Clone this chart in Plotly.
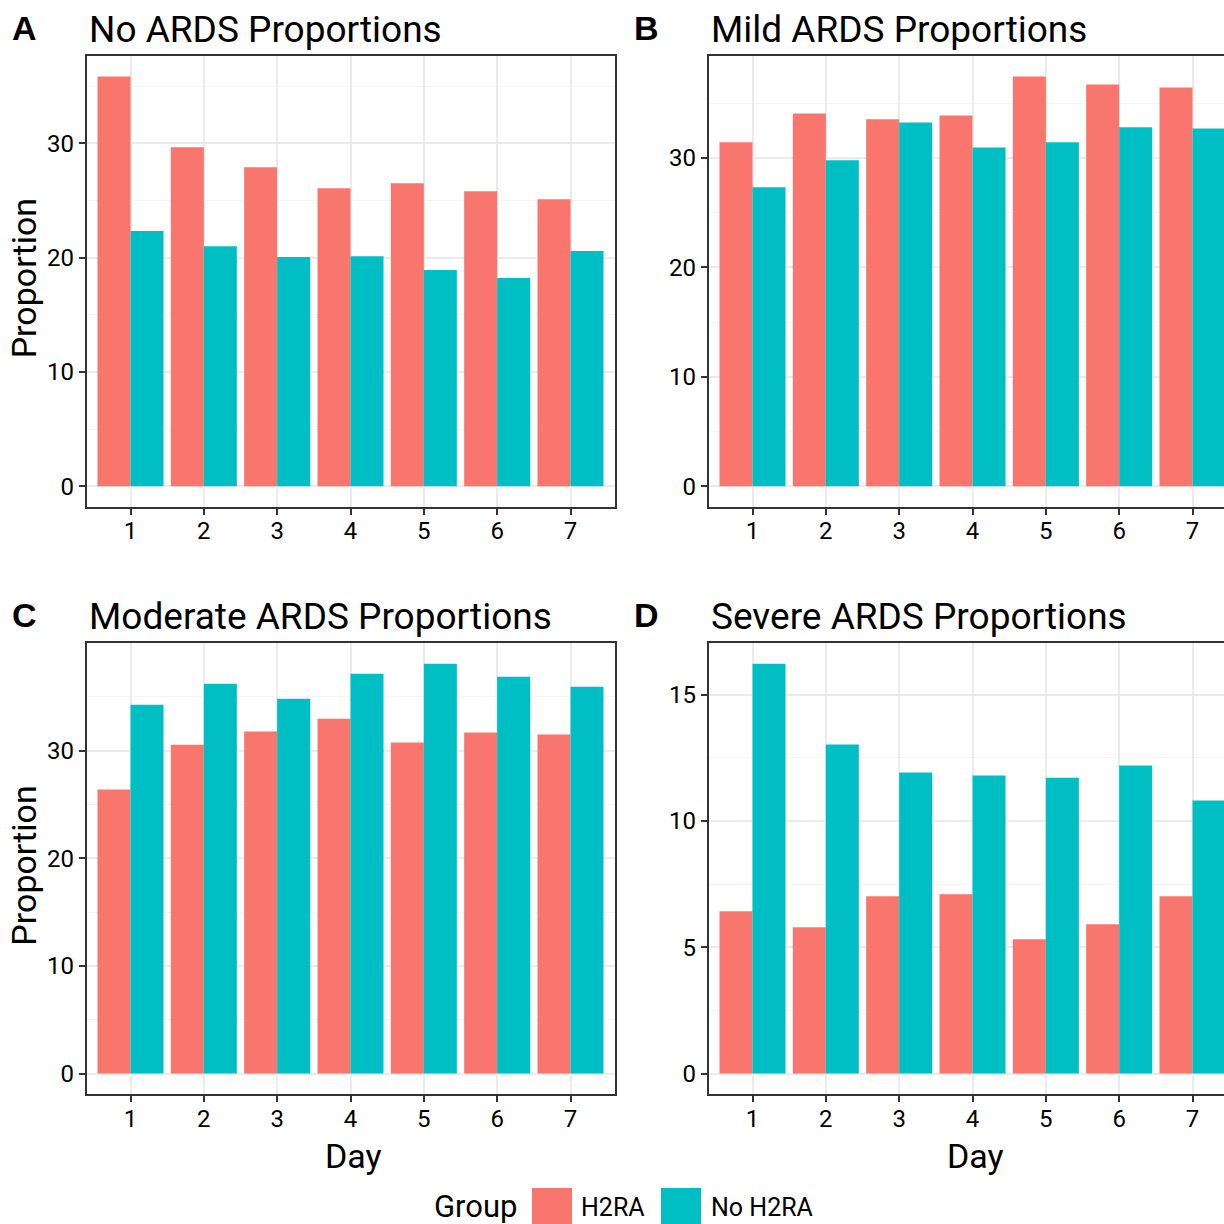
import plotly.graph_objects as go

days = [1, 2, 3, 4, 5, 6, 7]
groups = ["H2RA", "No H2RA"]
colors = {"H2RA": "#F8766D", "No H2RA": "#00BFC4"}

none_h2ra = [35.85, 29.65, 27.90, 26.07, 26.50, 25.81, 25.11]
none_no = [22.32, 21.00, 20.05, 20.13, 18.91, 18.21, 20.57]
mild_h2ra = [31.43, 34.07, 33.53, 33.89, 37.45, 36.72, 36.44]
mild_no = [27.33, 29.79, 33.25, 30.97, 31.43, 32.80, 32.70]
mod_h2ra = [26.38, 30.55, 31.76, 32.96, 30.74, 31.67, 31.48]
mod_no = [34.26, 36.21, 34.82, 37.13, 38.06, 36.86, 35.93]
sev_h2ra = [6.43, 5.79, 7.02, 7.10, 5.32, 5.91, 7.02]
sev_no = [16.23, 13.03, 11.92, 11.80, 11.72, 12.20, 10.81]

panels = [
    ("A", "No ARDS Proportions", none_h2ra, none_no, 10, 5),
    ("B", "Mild ARDS Proportions", mild_h2ra, mild_no, 10, 5),
    ("C", "Moderate ARDS Proportions", mod_h2ra, mod_no, 10, 5),
    ("D", "Severe ARDS Proportions", sev_h2ra, sev_no, 5, 2.5),
]

W = H = 1224
FONT = "Roboto"

def px(x):
    return x / W

def py(y):
    return 1 - y / H

# pixel layout of the plot areas
left_x = (86.5, 614.5)
right_x = (708.5, 1236.5)
top_y = (56.0, 506.7)
bot_y = (643.3, 1094.0)
boxes = [(left_x, top_y), (right_x, top_y), (left_x, bot_y), (right_x, bot_y)]

fig = go.Figure()
layout = dict(
    width=W, height=H, margin=dict(l=0, r=0, t=0, b=0),
    paper_bgcolor="white", plot_bgcolor="white",
    barmode="group", bargap=0.1, bargroupgap=0,
    showlegend=False, font=dict(family=FONT, color="black"),
)
annotations = []
shapes = []

for i, (letter, title, h, n, dt, mdt) in enumerate(panels):
    k = "" if i == 0 else str(i + 1)
    (x0, x1), (y0, y1) = boxes[i]
    for g, vals in zip(groups, [h, n]):
        fig.add_trace(go.Bar(
            x=days, y=vals, name=g, marker=dict(color=colors[g], line=dict(width=0)),
            offsetgroup=g, xaxis="x" + k, yaxis="y" + k,
        ))
    dom_x = [px(x0), min(1.0, px(x1))]
    full_range = [0.4, 7.6]
    r_end = full_range[0] + (min(x1, W) - x0) / (x1 - x0) * (full_range[1] - full_range[0])
    right_cut = x1 > W
    ymax = max(max(h), max(n))
    layout["xaxis" + k] = dict(
        domain=dom_x, range=[0.4, r_end], anchor="y" + k,
        tickmode="array", tickvals=days, ticktext=[str(d) for d in days],
        showgrid=True, gridcolor="#ebebeb", gridwidth=1.5,
        showline=True, linecolor="#333333", linewidth=1.6, mirror=True,
        ticks="outside", ticklen=6, tickwidth=1.5, tickcolor="#333333",
        ticklabelstandoff=-4,
        tickfont=dict(size=24, family=FONT, color="black"),
        zeroline=False, fixedrange=True,
    )
    layout["yaxis" + k] = dict(
        domain=[py(y1), py(y0)], range=[-0.05 * ymax, 1.05 * ymax], anchor="x" + k,
        tickmode="linear", tick0=0, dtick=dt,
        showgrid=True, gridcolor="#ebebeb", gridwidth=1.5,
        minor=dict(dtick=mdt, tick0=0, showgrid=True, gridcolor="#f4f4f4", gridwidth=1, ticks=""),
        showline=True, linecolor="#333333", linewidth=1.6, mirror=(not right_cut),
        ticks="outside", ticklen=6, tickwidth=1.5, tickcolor="#333333",
        tickfont=dict(size=24, family=FONT, color="black"),
        zeroline=False, fixedrange=True,
    )
    annotations.append(dict(text="<b>" + letter + "</b>", x=px(x0 - 62), y=py(y0 - 28),
                            xref="paper", yref="paper", xanchor="center", yanchor="middle",
                            showarrow=False, font=dict(family="Liberation Sans", size=34, color="black")))
    annotations.append(dict(text=title, x=px(x0 + 0), y=py(y0 - 27),
                            xref="paper", yref="paper", xanchor="left", yanchor="middle",
                            showarrow=False, font=dict(family=FONT, size=37, color="black")))
    if i in (0, 2):
        annotations.append(dict(text="Proportion", x=px(24), y=py((y0 + y1) / 2 - 3),
                                xref="paper", yref="paper", xanchor="center", yanchor="middle",
                                textangle=-90, showarrow=False,
                                font=dict(family=FONT, size=34, color="black")))
    if i in (2, 3):
        annotations.append(dict(text="Day", x=px((x0 + x1) / 2 + 3), y=py(1156),
                                xref="paper", yref="paper", xanchor="center", yanchor="middle",
                                showarrow=False, font=dict(family=FONT, size=34, color="black")))

# legend (drawn at the bottom)
annotations.append(dict(text="Group", x=px(476), y=py(1206), xref="paper", yref="paper",
                        xanchor="center", yanchor="middle", showarrow=False,
                        font=dict(family=FONT, size=31, color="black")))
leg = [("H2RA", 532, 579), ("No H2RA", 661, 709)]
for g, kx, tx in leg:
    shapes.append(dict(type="rect", xref="paper", yref="paper",
                       x0=px(kx), x1=px(kx + 40), y0=py(1230), y1=py(1188),
                       fillcolor=colors[g], line=dict(width=0)))
    annotations.append(dict(text=g, x=px(tx), y=py(1207), xref="paper", yref="paper",
                            xanchor="left", yanchor="middle", showarrow=False,
                            font=dict(family=FONT, size=25, color="black")))

layout["annotations"] = annotations
layout["shapes"] = shapes
fig.update_layout(**layout)
fig.write_html("out.html", config={"displayModeBar": False},
               post_script="document.body.style.margin='0px';document.body.style.overflow='hidden';")
